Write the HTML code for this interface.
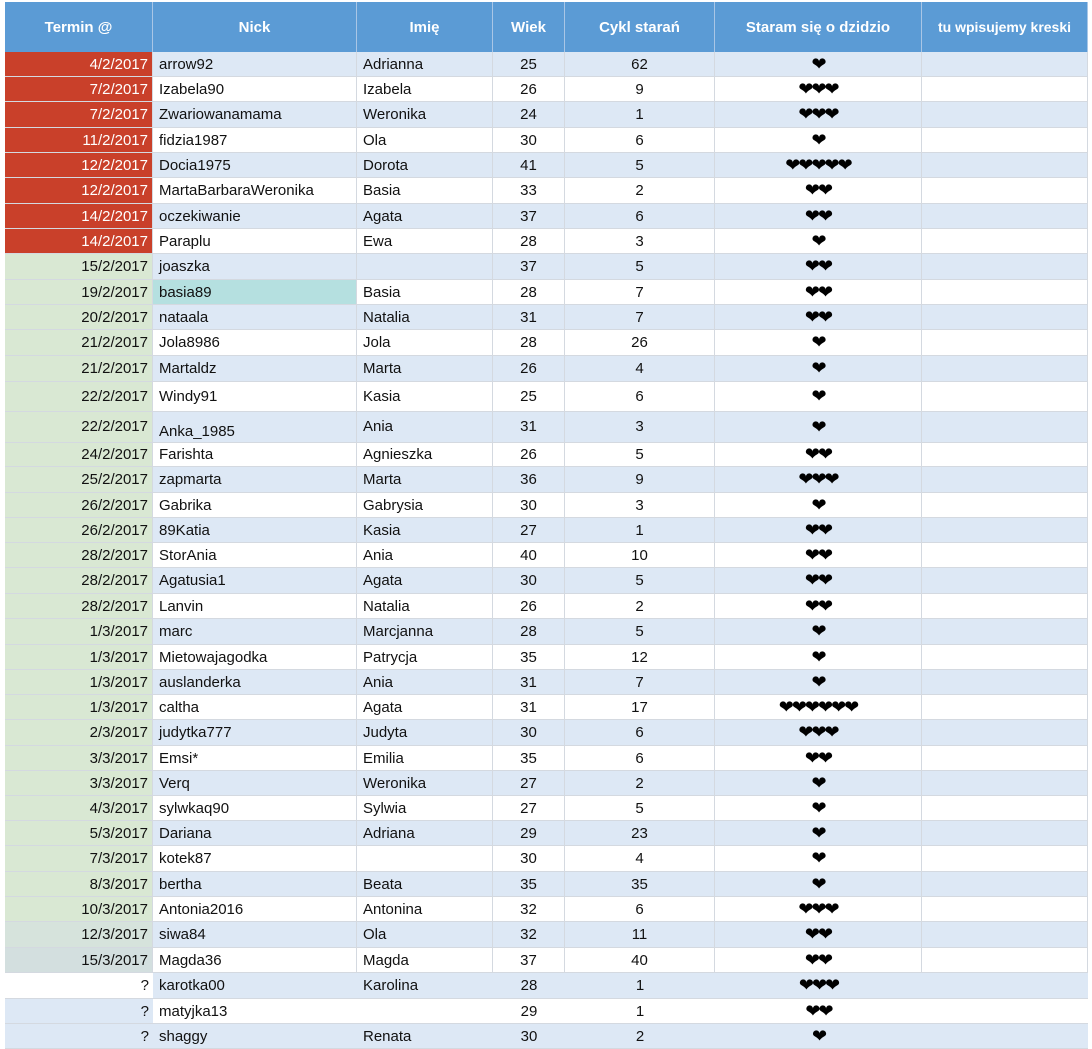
<!DOCTYPE html>
<html><head><meta charset="utf-8"><style>
body{margin:0;width:1092px;height:1049px;background:#fff;overflow:hidden;font-family:"Liberation Sans",sans-serif;font-size:15px;color:#111}
.r{position:absolute;left:5px;display:flex;width:1083px}
.r>div{box-sizing:border-box;border-right:1px solid #d4d9e0;border-bottom:1px solid #d4d9e0;display:flex;align-items:center;white-space:nowrap;overflow:hidden}
.c1{width:148px;justify-content:flex-end;padding-right:4px}
.c2{width:204px;padding-left:6px}
.c3{width:136px;padding-left:6px}
.c4{width:72px;justify-content:center}
.c5{width:150px;justify-content:center}
.c6{width:207px;justify-content:center;font-family:"DejaVu Sans",sans-serif;font-size:18px;letter-spacing:-2px;color:#000}
.c7{width:166px}
.b>div{background:#dde8f5}
.w>div{background:#fff}
.red>.c1{background:#c9402a!important;color:#fff}
.grn>.c1{background:#d9e8d3!important}
.h>div{background:#5b9bd5;color:#fff;font-weight:bold;justify-content:center;border-right:1px solid #a9c6e6;border-bottom:none;font-family:"Liberation Sans",sans-serif;letter-spacing:0;font-size:15px}
.nb>div{border-right:none}
</style></head><body>
<div class="r h" style="top:2px;height:50px"><div class="c1" style="padding:0">Termin @</div><div class="c2" style="padding:0">Nick</div><div class="c3" style="padding:0">Imię</div><div class="c4">Wiek</div><div class="c5">Cykl starań</div><div class="c6">Staram się o dzidzio</div><div class="c7" style="font-size:14px">tu wpisujemy kreski</div></div>

<div class="r b red" style="top:52px;height:25px"><div class="c1">4/2/2017</div><div class="c2">arrow92</div><div class="c3">Adrianna</div><div class="c4">25</div><div class="c5">62</div><div class="c6">❤</div><div class="c7"></div></div>
<div class="r w red" style="top:77px;height:25px"><div class="c1">7/2/2017</div><div class="c2">Izabela90</div><div class="c3">Izabela</div><div class="c4">26</div><div class="c5">9</div><div class="c6">❤❤❤</div><div class="c7"></div></div>
<div class="r b red" style="top:102px;height:26px"><div class="c1">7/2/2017</div><div class="c2">Zwariowanamama</div><div class="c3">Weronika</div><div class="c4">24</div><div class="c5">1</div><div class="c6">❤❤❤</div><div class="c7"></div></div>
<div class="r w red" style="top:128px;height:25px"><div class="c1">11/2/2017</div><div class="c2">fidzia1987</div><div class="c3">Ola</div><div class="c4">30</div><div class="c5">6</div><div class="c6">❤</div><div class="c7"></div></div>
<div class="r b red" style="top:153px;height:25px"><div class="c1">12/2/2017</div><div class="c2">Docia1975</div><div class="c3">Dorota</div><div class="c4">41</div><div class="c5">5</div><div class="c6">❤❤❤❤❤</div><div class="c7"></div></div>
<div class="r w red" style="top:178px;height:26px"><div class="c1">12/2/2017</div><div class="c2">MartaBarbaraWeronika</div><div class="c3">Basia</div><div class="c4">33</div><div class="c5">2</div><div class="c6">❤❤</div><div class="c7"></div></div>
<div class="r b red" style="top:204px;height:25px"><div class="c1">14/2/2017</div><div class="c2">oczekiwanie</div><div class="c3">Agata</div><div class="c4">37</div><div class="c5">6</div><div class="c6">❤❤</div><div class="c7"></div></div>
<div class="r w red" style="top:229px;height:25px"><div class="c1">14/2/2017</div><div class="c2">Paraplu</div><div class="c3">Ewa</div><div class="c4">28</div><div class="c5">3</div><div class="c6">❤</div><div class="c7"></div></div>
<div class="r b grn" style="top:254px;height:26px"><div class="c1">15/2/2017</div><div class="c2">joaszka</div><div class="c3"></div><div class="c4">37</div><div class="c5">5</div><div class="c6">❤❤</div><div class="c7"></div></div>
<div class="r w grn" style="top:280px;height:25px"><div class="c1">19/2/2017</div><div class="c2" style="background:#b5e0e0">basia89</div><div class="c3">Basia</div><div class="c4">28</div><div class="c5">7</div><div class="c6">❤❤</div><div class="c7"></div></div>
<div class="r b grn" style="top:305px;height:25px"><div class="c1">20/2/2017</div><div class="c2">nataala</div><div class="c3">Natalia</div><div class="c4">31</div><div class="c5">7</div><div class="c6">❤❤</div><div class="c7"></div></div>
<div class="r w grn" style="top:330px;height:26px"><div class="c1">21/2/2017</div><div class="c2">Jola8986</div><div class="c3">Jola</div><div class="c4">28</div><div class="c5">26</div><div class="c6">❤</div><div class="c7"></div></div>
<div class="r b grn" style="top:356px;height:26px"><div class="c1">21/2/2017</div><div class="c2">Martaldz</div><div class="c3">Marta</div><div class="c4">26</div><div class="c5">4</div><div class="c6">❤</div><div class="c7"></div></div>
<div class="r w grn" style="top:382px;height:30px"><div class="c1">22/2/2017</div><div class="c2">Windy91</div><div class="c3">Kasia</div><div class="c4">25</div><div class="c5">6</div><div class="c6">❤</div><div class="c7"></div></div>
<div class="r b grn" style="top:412px;height:31px"><div class="c1" style="align-items:flex-start;padding-top:6px">22/2/2017</div><div class="c2" style="padding-top:8px">Anka_1985</div><div class="c3" style="align-items:flex-start;padding-top:6px">Ania</div><div class="c4" style="align-items:flex-start;padding-top:6px">31</div><div class="c5" style="align-items:flex-start;padding-top:6px">3</div><div class="c6">❤</div><div class="c7"></div></div>
<div class="r w grn" style="top:443px;height:24px"><div class="c1">24/2/2017</div><div class="c2">Farishta</div><div class="c3">Agnieszka</div><div class="c4">26</div><div class="c5">5</div><div class="c6">❤❤</div><div class="c7"></div></div>
<div class="r b grn" style="top:467px;height:26px"><div class="c1">25/2/2017</div><div class="c2">zapmarta</div><div class="c3">Marta</div><div class="c4">36</div><div class="c5">9</div><div class="c6">❤❤❤</div><div class="c7"></div></div>
<div class="r w grn" style="top:493px;height:25px"><div class="c1">26/2/2017</div><div class="c2">Gabrika</div><div class="c3">Gabrysia</div><div class="c4">30</div><div class="c5">3</div><div class="c6">❤</div><div class="c7"></div></div>
<div class="r b grn" style="top:518px;height:25px"><div class="c1">26/2/2017</div><div class="c2">89Katia</div><div class="c3">Kasia</div><div class="c4">27</div><div class="c5">1</div><div class="c6">❤❤</div><div class="c7"></div></div>
<div class="r w grn" style="top:543px;height:25px"><div class="c1">28/2/2017</div><div class="c2">StorAnia</div><div class="c3">Ania</div><div class="c4">40</div><div class="c5">10</div><div class="c6">❤❤</div><div class="c7"></div></div>
<div class="r b grn" style="top:568px;height:26px"><div class="c1">28/2/2017</div><div class="c2">Agatusia1</div><div class="c3">Agata</div><div class="c4">30</div><div class="c5">5</div><div class="c6">❤❤</div><div class="c7"></div></div>
<div class="r w grn" style="top:594px;height:25px"><div class="c1">28/2/2017</div><div class="c2">Lanvin</div><div class="c3">Natalia</div><div class="c4">26</div><div class="c5">2</div><div class="c6">❤❤</div><div class="c7"></div></div>
<div class="r b grn" style="top:619px;height:26px"><div class="c1">1/3/2017</div><div class="c2">marc</div><div class="c3">Marcjanna</div><div class="c4">28</div><div class="c5">5</div><div class="c6">❤</div><div class="c7"></div></div>
<div class="r w grn" style="top:645px;height:25px"><div class="c1">1/3/2017</div><div class="c2">Mietowajagodka</div><div class="c3">Patrycja</div><div class="c4">35</div><div class="c5">12</div><div class="c6">❤</div><div class="c7"></div></div>
<div class="r b grn" style="top:670px;height:25px"><div class="c1">1/3/2017</div><div class="c2">auslanderka</div><div class="c3">Ania</div><div class="c4">31</div><div class="c5">7</div><div class="c6">❤</div><div class="c7"></div></div>
<div class="r w grn" style="top:695px;height:25px"><div class="c1">1/3/2017</div><div class="c2">caltha</div><div class="c3">Agata</div><div class="c4">31</div><div class="c5">17</div><div class="c6">❤❤❤❤❤❤</div><div class="c7"></div></div>
<div class="r b grn" style="top:720px;height:26px"><div class="c1">2/3/2017</div><div class="c2">judytka777</div><div class="c3">Judyta</div><div class="c4">30</div><div class="c5">6</div><div class="c6">❤❤❤</div><div class="c7"></div></div>
<div class="r w grn" style="top:746px;height:25px"><div class="c1">3/3/2017</div><div class="c2">Emsi*</div><div class="c3">Emilia</div><div class="c4">35</div><div class="c5">6</div><div class="c6">❤❤</div><div class="c7"></div></div>
<div class="r b grn" style="top:771px;height:25px"><div class="c1">3/3/2017</div><div class="c2">Verq</div><div class="c3">Weronika</div><div class="c4">27</div><div class="c5">2</div><div class="c6">❤</div><div class="c7"></div></div>
<div class="r w grn" style="top:796px;height:25px"><div class="c1">4/3/2017</div><div class="c2">sylwkaq90</div><div class="c3">Sylwia</div><div class="c4">27</div><div class="c5">5</div><div class="c6">❤</div><div class="c7"></div></div>
<div class="r b grn" style="top:821px;height:25px"><div class="c1">5/3/2017</div><div class="c2">Dariana</div><div class="c3">Adriana</div><div class="c4">29</div><div class="c5">23</div><div class="c6">❤</div><div class="c7"></div></div>
<div class="r w grn" style="top:846px;height:26px"><div class="c1">7/3/2017</div><div class="c2">kotek87</div><div class="c3"></div><div class="c4">30</div><div class="c5">4</div><div class="c6">❤</div><div class="c7"></div></div>
<div class="r b grn" style="top:872px;height:25px"><div class="c1">8/3/2017</div><div class="c2">bertha</div><div class="c3">Beata</div><div class="c4">35</div><div class="c5">35</div><div class="c6">❤</div><div class="c7"></div></div>
<div class="r w grn" style="top:897px;height:25px"><div class="c1">10/3/2017</div><div class="c2">Antonia2016</div><div class="c3">Antonina</div><div class="c4">32</div><div class="c5">6</div><div class="c6">❤❤❤</div><div class="c7"></div></div>
<div class="r b grn" style="top:922px;height:26px"><div class="c1" style="background:#d6e3dc!important">12/3/2017</div><div class="c2">siwa84</div><div class="c3">Ola</div><div class="c4">32</div><div class="c5">11</div><div class="c6">❤❤</div><div class="c7"></div></div>
<div class="r w grn" style="top:948px;height:25px"><div class="c1" style="background:#d3dfdf!important">15/3/2017</div><div class="c2">Magda36</div><div class="c3">Magda</div><div class="c4">37</div><div class="c5">40</div><div class="c6">❤❤</div><div class="c7"></div></div>
<div class="r b nb" style="top:973px;height:26px"><div class="c1" style="background:#fff">?</div><div class="c2">karotka00</div><div class="c3">Karolina</div><div class="c4">28</div><div class="c5">1</div><div class="c6">❤❤❤</div><div class="c7"></div></div>
<div class="r w nb" style="top:999px;height:25px"><div class="c1" style="background:#dde8f5">?</div><div class="c2">matyjka13</div><div class="c3"></div><div class="c4">29</div><div class="c5">1</div><div class="c6">❤❤</div><div class="c7"></div></div>
<div class="r b nb" style="top:1024px;height:25px"><div class="c1">?</div><div class="c2">shaggy</div><div class="c3">Renata</div><div class="c4">30</div><div class="c5">2</div><div class="c6">❤</div><div class="c7"></div></div>
</body></html>
